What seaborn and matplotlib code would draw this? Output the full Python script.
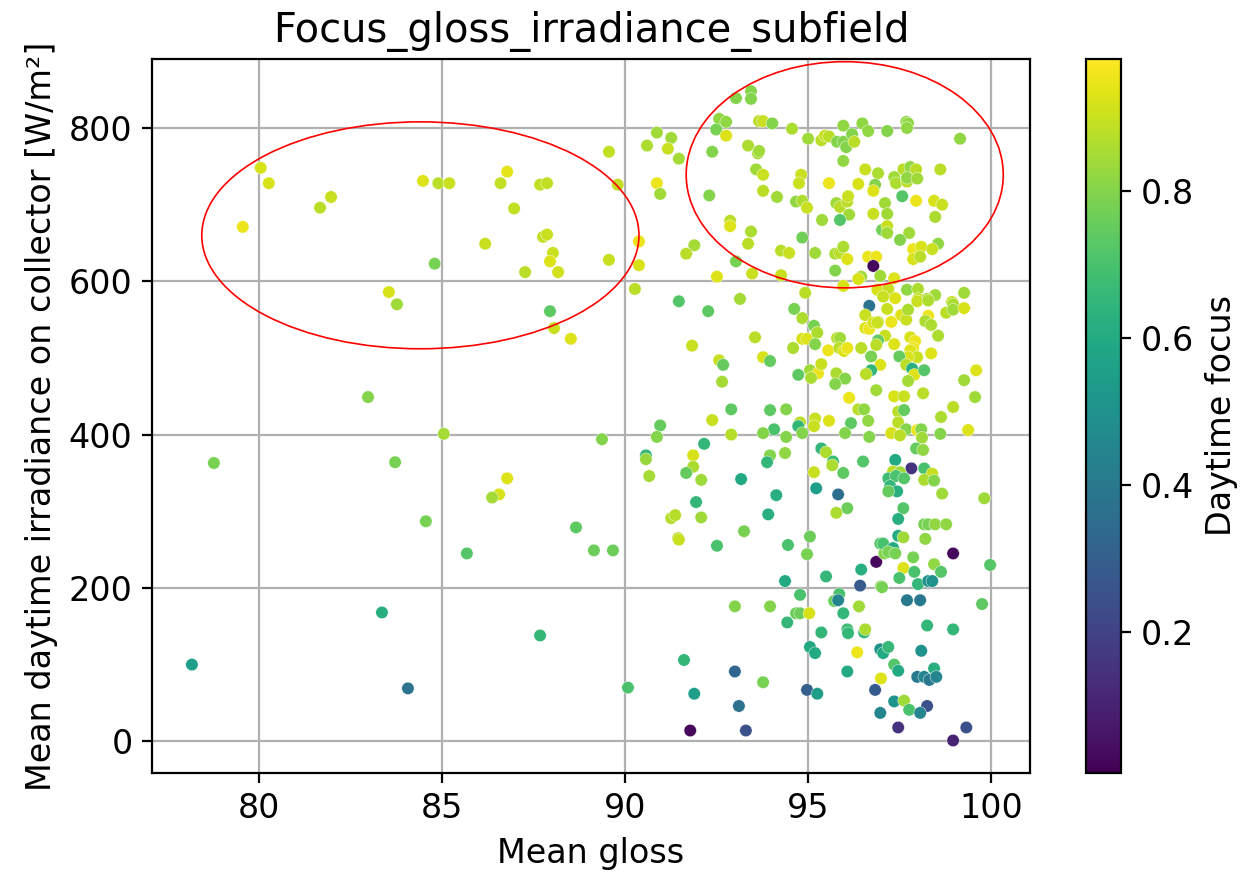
import matplotlib
matplotlib.use("Agg")
import matplotlib.pyplot as plt
from matplotlib.patches import Ellipse
from matplotlib.colors import Normalize
import matplotlib.cm as cm
import seaborn as sns
import pandas as pd

TITLE = "Focus_gloss_irradiance_subfield"
XLABEL = "Mean gloss"
YLABEL = "Mean daytime irradiance on collector [W/m²]"
CBAR_LABEL = "Daytime focus"

points = [
    # left region
    (80.05, 748, 0.92), (80.27, 728, 0.92), (79.56, 671, 0.95), (81.67, 696, 0.88), (81.97, 710, 0.90),
    (84.48, 731, 0.93), (84.90, 728, 0.88), (85.20, 728, 0.90), (84.80, 623, 0.78), (83.55, 586, 0.92),
    (83.77, 570, 0.84), (82.98, 449, 0.80), (78.77, 363, 0.78), (83.72, 364, 0.78), (84.56, 287, 0.78),
    (83.36, 168, 0.62), (78.17, 100, 0.55), (84.07, 69, 0.38), (85.05, 401, 0.85),
    # middle top
    (93.03, 839, 0.80), (92.57, 812, 0.82), (92.76, 808, 0.82), (92.49, 798, 0.78), (92.76, 790, 0.93),
    (90.87, 794, 0.84), (91.26, 787, 0.84), (90.60, 777, 0.86), (91.17, 773, 0.90), (91.47, 760, 0.85),
    (92.38, 769, 0.80), (89.56, 769, 0.89), (86.78, 743, 0.94), (86.60, 728, 0.89), (87.68, 726, 0.89),
    (87.87, 728, 0.89), (89.80, 726, 0.89), (90.87, 728, 0.95), (90.96, 714, 0.84), (92.30, 712, 0.80),
    (86.97, 695, 0.89), (92.87, 679, 0.88), (92.87, 672, 0.93), (90.38, 652, 0.95), (91.89, 647, 0.85),
    (91.67, 636, 0.88), (86.18, 649, 0.90), (87.76, 658, 0.89), (87.87, 661, 0.90), (88.03, 637, 0.90),
    (87.95, 626, 0.93), (88.17, 612, 0.91), (87.27, 612, 0.88), (89.56, 628, 0.90), (90.38, 621, 0.92),
    (93.03, 626, 0.78), (92.51, 606, 0.93), (90.27, 590, 0.88), (91.47, 574, 0.72), (93.14, 577, 0.85),
    # middle centre
    (87.95, 561, 0.74), (88.06, 539, 0.90), (88.52, 525, 0.93), (92.27, 561, 0.74), (91.83, 516, 0.90),
    (92.57, 497, 0.90), (92.68, 491, 0.75), (92.65, 469, 0.85), (92.90, 433, 0.74), (92.38, 419, 0.90),
    (92.90, 400, 0.87), (90.96, 412, 0.75), (90.87, 397, 0.80), (89.37, 394, 0.80), (92.16, 388, 0.65),
    (90.57, 373, 0.65), (90.57, 368, 0.83), (91.86, 373, 0.92), (91.86, 358, 0.86), (91.67, 350, 0.75),
    (92.08, 341, 0.84), (90.66, 346, 0.85), (86.78, 343, 0.93), (86.56, 322, 0.92), (86.37, 318, 0.85),
    (91.94, 312, 0.65), (91.26, 291, 0.87), (91.37, 295, 0.87), (92.08, 292, 0.84), (88.66, 279, 0.74),
    (91.45, 265, 0.87),
    # middle bottom
    (85.68, 245, 0.72), (89.15, 249, 0.76), (89.67, 249, 0.76), (91.47, 263, 0.90), (92.51, 255, 0.70),
    (93.00, 176, 0.80), (87.68, 138, 0.65), (91.61, 106, 0.65), (90.08, 70, 0.70), (91.89, 62, 0.55),
    (91.78, 14, 0.03), (93.00, 91, 0.33), (93.11, 46, 0.37), (93.30, 14, 0.25),
    # right top-left
    (93.44, 848, 0.80), (93.44, 838, 0.80), (93.66, 809, 0.88), (93.77, 809, 0.90), (94.02, 806, 0.80),
    (94.56, 799, 0.86), (95.00, 786, 0.84), (95.36, 784, 0.88), (95.46, 790, 0.90), (95.57, 789, 0.88),
    (95.96, 803, 0.82), (95.79, 782, 0.80), (95.96, 782, 0.80), (96.04, 775, 0.80), (96.20, 792, 0.80),
    (96.26, 782, 0.88), (96.48, 806, 0.82), (96.64, 796, 0.82), (95.96, 757, 0.82), (93.36, 777, 0.86),
    (93.63, 767, 0.85), (93.66, 770, 0.84), (93.58, 746, 0.84), (93.77, 739, 0.90), (93.77, 718, 0.88),
    (94.15, 710, 0.84), (94.81, 739, 0.90), (94.75, 728, 0.90), (94.67, 704, 0.82), (94.84, 705, 0.86),
    (94.97, 696, 0.90), (95.57, 728, 0.95), (95.77, 702, 0.84), (95.87, 697, 0.88), (96.07, 704, 0.88),
    (96.09, 711, 0.90), (96.37, 727, 0.92), (96.56, 746, 0.90), (96.91, 741, 0.86), (96.83, 726, 0.80),
    (96.78, 718, 0.93), (96.12, 687, 0.84), (95.87, 680, 0.72), (95.38, 680, 0.84), (96.78, 688, 0.90),
    (97.02, 667, 0.77), (93.44, 665, 0.86), (93.36, 649, 0.88), (94.84, 657, 0.77), (94.26, 640, 0.88),
    (94.48, 637, 0.90), (95.19, 637, 0.84), (95.74, 636, 0.86), (95.87, 637, 0.88), (95.96, 645, 0.86),
    (96.07, 629, 0.93), (96.64, 632, 0.95), (96.86, 632, 0.95), (96.78, 620, 0.03), (95.74, 614, 0.80),
    (96.45, 606, 0.84), (96.37, 603, 0.92), (95.96, 594, 0.92), (94.26, 608, 0.90), (93.47, 610, 0.90),
    (94.92, 585, 0.88), (96.67, 568, 0.38),
    # right top-right
    (97.68, 808, 0.82), (97.73, 806, 0.82), (97.70, 800, 0.82), (97.16, 796, 0.80), (99.15, 786, 0.82),
    (97.60, 746, 0.88), (97.79, 749, 0.82), (97.95, 746, 0.88), (97.35, 736, 0.84), (97.40, 728, 0.86),
    (97.70, 730, 0.88), (97.70, 735, 0.82), (97.98, 734, 0.84), (98.61, 746, 0.88), (97.57, 711, 0.72),
    (97.95, 705, 0.95), (98.44, 705, 0.92), (98.66, 700, 0.90), (97.10, 702, 0.84), (97.16, 688, 0.84),
    (98.47, 684, 0.86), (97.16, 672, 0.90), (97.16, 663, 0.84), (97.76, 663, 0.84), (97.51, 654, 0.80),
    (98.55, 649, 0.82), (97.87, 642, 0.95), (98.09, 645, 0.92), (98.39, 642, 0.90), (97.87, 629, 0.92),
    (98.06, 632, 0.88), (96.97, 607, 0.84), (97.35, 604, 0.93), (96.89, 589, 0.92), (97.19, 590, 0.90),
    (97.70, 589, 0.82), (98.00, 590, 0.86), (98.47, 582, 0.84), (99.26, 585, 0.84), (98.93, 573, 0.90),
    (97.05, 580, 0.90), (97.38, 578, 0.93), (98.00, 577, 0.90), (98.25, 577, 0.86),
    # right middle-right
    (97.16, 564, 0.90), (97.54, 556, 0.93), (97.68, 550, 0.90), (97.73, 563, 0.86), (98.28, 555, 0.95),
    (98.20, 548, 0.86), (98.36, 543, 0.86), (98.77, 559, 0.88), (98.96, 570, 0.86), (98.96, 563, 0.84),
    (99.26, 565, 0.92), (97.98, 574, 0.90), (98.28, 575, 0.86), (97.27, 547, 0.95), (96.91, 547, 0.88),
    (97.10, 529, 0.90), (96.91, 523, 0.75), (97.79, 527, 0.92), (97.92, 522, 0.95), (97.87, 513, 0.95),
    (97.79, 510, 0.93), (97.98, 501, 0.90), (97.73, 501, 0.92), (97.35, 518, 0.93), (98.55, 529, 0.86),
    (98.36, 506, 0.93), (97.49, 502, 0.75), (97.68, 491, 0.88), (97.84, 486, 0.62), (97.90, 478, 0.93),
    (97.73, 470, 0.85), (98.17, 484, 0.72), (96.97, 491, 0.93), (99.59, 484, 0.93), (99.26, 471, 0.84),
    (99.56, 449, 0.84), (98.96, 436, 0.88), (98.63, 423, 0.86), (98.14, 454, 0.88), (97.35, 450, 0.92),
    (97.62, 450, 0.90), (97.46, 430, 0.88), (97.62, 432, 0.75), (97.46, 416, 0.88), (97.68, 407, 0.80),
    (97.98, 406, 0.95), (98.09, 407, 0.80), (98.11, 396, 0.84), (97.27, 402, 0.92), (97.51, 399, 0.88),
    (98.61, 401, 0.80), (99.37, 406, 0.93), (96.86, 458, 0.84), (97.95, 382, 0.75), (98.14, 380, 0.82),
    (97.38, 367, 0.60), (97.82, 356, 0.15), (98.17, 356, 0.70), (97.32, 352, 0.88), (97.51, 351, 0.84),
    (98.39, 349, 0.90), (98.17, 341, 0.86), (98.44, 340, 0.80), (97.19, 343, 0.68), (97.40, 346, 0.70),
    (97.62, 343, 0.72), (97.24, 333, 0.65), (97.43, 326, 0.62), (97.19, 326, 0.75), (98.66, 323, 0.84),
    (99.81, 317, 0.84), (97.60, 304, 0.72), (97.46, 290, 0.62), (98.17, 283, 0.78), (98.28, 283, 0.78),
    (98.47, 283, 0.82), (98.77, 283, 0.82), (97.46, 268, 0.60), (97.60, 266, 0.84), (98.20, 264, 0.82),
    # right middle-left
    (94.62, 564, 0.78), (94.84, 552, 0.86), (93.55, 527, 0.88), (94.59, 513, 0.86), (94.84, 525, 0.92),
    (94.97, 525, 0.93), (95.16, 542, 0.78), (95.25, 533, 0.86), (95.19, 518, 0.80), (95.55, 510, 0.95),
    (95.79, 526, 0.88), (95.87, 526, 0.84), (95.85, 513, 0.88), (95.98, 509, 0.93), (96.07, 513, 0.95),
    (96.45, 513, 0.88), (96.56, 556, 0.90), (96.56, 539, 0.93), (96.67, 538, 0.95), (96.78, 546, 0.92),
    (96.89, 546, 0.90), (96.86, 517, 0.88), (96.72, 502, 0.78), (96.72, 484, 0.65), (96.58, 479, 0.88),
    (93.77, 501, 0.92), (93.96, 496, 0.75), (94.73, 478, 0.74), (95.05, 484, 0.84), (95.27, 480, 0.95),
    (95.08, 474, 0.86), (95.36, 492, 0.90), (95.77, 480, 0.86), (96.01, 473, 0.80), (95.74, 466, 0.80),
    (96.12, 448, 0.95), (96.37, 433, 0.88), (96.53, 433, 0.82), (96.64, 418, 0.82), (96.17, 415, 0.74),
    (95.57, 418, 0.93), (95.19, 421, 0.90), (95.16, 411, 0.90), (94.78, 416, 0.88), (94.73, 411, 0.65),
    (93.96, 432, 0.74), (94.40, 433, 0.80), (94.07, 407, 0.70), (93.77, 402, 0.80), (94.40, 397, 0.80),
    (94.84, 402, 0.80), (96.01, 402, 0.80), (96.67, 397, 0.80), (95.36, 382, 0.65), (95.49, 377, 0.86),
    (95.68, 365, 0.68), (95.66, 360, 0.86), (95.96, 350, 0.74), (96.50, 365, 0.72), (93.96, 373, 0.80),
    (93.88, 364, 0.65), (94.37, 376, 0.82), (95.16, 351, 0.90), (93.17, 342, 0.60), (94.13, 321, 0.62),
    (95.22, 330, 0.55), (95.82, 322, 0.35), (93.91, 296, 0.62), (96.07, 304, 0.76), (95.77, 298, 0.86),
    (93.25, 274, 0.78), (95.05, 267, 0.76),
    # right bottom-left
    (94.45, 256, 0.70), (94.97, 244, 0.78), (95.49, 215, 0.65), (94.37, 209, 0.60), (96.45, 224, 0.62),
    (96.86, 234, 0.03), (96.97, 258, 0.72), (97.08, 245, 0.80), (96.42, 203, 0.28), (96.99, 202, 0.80),
    (94.78, 191, 0.70), (94.67, 167, 0.76), (94.78, 167, 0.76), (95.03, 167, 0.92), (95.85, 192, 0.70),
    (95.71, 183, 0.76), (95.82, 184, 0.45), (95.96, 167, 0.65), (96.39, 176, 0.84), (93.96, 176, 0.80),
    (94.43, 155, 0.65), (95.36, 142, 0.65), (96.07, 146, 0.68), (96.09, 141, 0.65), (96.53, 142, 0.65),
    (96.56, 146, 0.86), (95.05, 123, 0.60), (95.19, 115, 0.60), (96.34, 116, 0.95), (96.97, 120, 0.50),
    (97.05, 115, 0.60), (96.07, 91, 0.60), (96.99, 82, 0.93), (93.77, 77, 0.78), (94.97, 67, 0.30),
    (95.25, 62, 0.55), (96.83, 67, 0.28), (96.97, 37, 0.45),
    # right bottom-right
    (97.05, 258, 0.70), (97.32, 252, 0.60), (97.19, 247, 0.78), (97.38, 245, 0.78), (98.96, 245, 0.03),
    (97.87, 240, 0.78), (98.44, 231, 0.82), (98.63, 221, 0.72), (97.60, 226, 0.93), (97.90, 221, 0.70),
    (97.49, 213, 0.70), (98.00, 205, 0.65), (98.28, 209, 0.50), (98.39, 209, 0.50), (97.02, 201, 0.78),
    (99.97, 230, 0.72), (97.70, 184, 0.40), (98.06, 184, 0.40), (99.75, 179, 0.74), (98.25, 151, 0.65),
    (98.96, 146, 0.65), (97.19, 123, 0.66), (98.09, 118, 0.50), (97.35, 100, 0.72), (97.46, 92, 0.60),
    (98.44, 95, 0.62), (97.98, 84, 0.40), (98.17, 84, 0.45), (98.31, 80, 0.40), (98.50, 84, 0.45),
    (97.35, 52, 0.50), (97.62, 53, 0.84), (97.76, 41, 0.70), (98.25, 46, 0.25), (98.06, 37, 0.45),
    (97.46, 18, 0.15), (99.32, 18, 0.25), (98.96, 1, 0.10),
]

gloss = [p[0] for p in points]
irradiance = [p[1] for p in points]
focus = [p[2] for p in points]

# highlighted regions (centre gloss, centre irradiance, width, height)
ellipse_centers = [(84.41, 660), (96.0, 739)]
ellipse_sizes = [(11.94, 296), (8.66, 295)]

FOCUS_MIN, FOCUS_MAX = 0.008, 0.98

df = pd.DataFrame({"gloss": gloss, "irr": irradiance, "focus": focus})

fig = plt.figure(figsize=(1259 / 200, 872 / 200), dpi=200)
ax = fig.add_axes([152 / 1259, 99 / 872, 878 / 1259, 714 / 872])
cax = fig.add_axes([1086 / 1259, 99 / 872, 35 / 1259, 714 / 872])

norm = Normalize(vmin=FOCUS_MIN, vmax=FOCUS_MAX)
sns.scatterplot(data=df, x="gloss", y="irr", hue="focus", palette="viridis",
                hue_norm=norm, s=20, edgecolor="white", linewidth=0.15,
                legend=False, ax=ax)

for (cx, cy), (w, h) in zip(ellipse_centers, ellipse_sizes):
    ax.add_patch(Ellipse((cx, cy), w, h, fill=False, edgecolor="red", linewidth=0.6))

ax.grid(True, color="#b0b0b0", linewidth=0.8)
ax.set_axisbelow(True)
ax.set_xticks([80, 85, 90, 95, 100])
ax.set_yticks([0, 200, 400, 600, 800])
ax.set_xlim(77.08, 101.06)
ax.set_ylim(-41.4, 890)
ax.set_xlabel(XLABEL, fontsize=12)
ax.set_ylabel(YLABEL, fontsize=12)
ax.set_title(TITLE, fontsize=14.4)
ax.tick_params(labelsize=12)

sm = cm.ScalarMappable(norm=norm, cmap="viridis")
sm.set_array([])
cb = fig.colorbar(sm, cax=cax)
cb.set_ticks([0.2, 0.4, 0.6, 0.8])
cb.set_label(CBAR_LABEL, fontsize=12)
cb.ax.tick_params(labelsize=12)
cb.outline.set_linewidth(0.8)

fig.savefig("out.png", dpi=200)
